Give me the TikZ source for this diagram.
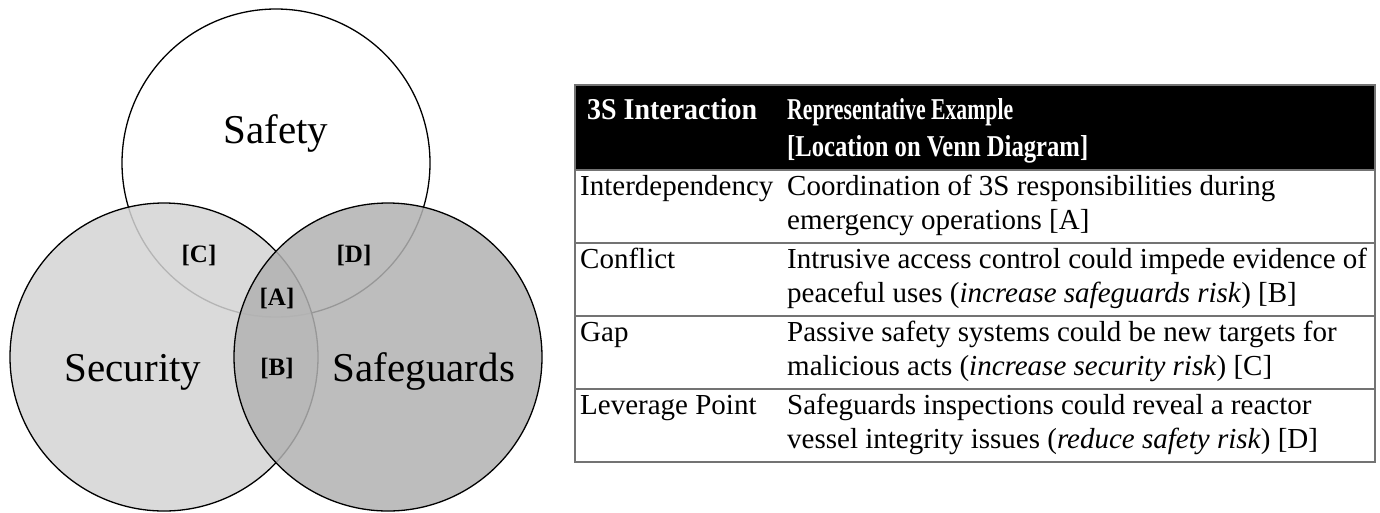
\documentclass[tikz,border=0pt]{standalone}
\usepackage{fontspec}
\usepackage{graphicx}
\setmainfont{Liberation Serif}
\definecolor{secfill}{gray}{0.83}
\definecolor{sgfill}{gray}{0.70}
\definecolor{rulegray}{gray}{0.45}
\newcommand{\hdrline}[2]{\resizebox{#1pt}{21pt}{\bfseries #2}}
\begin{document}
\begin{tikzpicture}[x=1pt,y=-1pt,
  venn/.style={circle,draw=black,line width=1.3pt,inner sep=0pt,minimum size=308pt},
  bigtxt/.style={inner sep=0pt,font=\fontsize{41}{45}\selectfont},
  lbl/.style={inner sep=0pt,font=\fontsize{25}{28}\selectfont\bfseries},
  cell/.style={anchor=base west,inner sep=0pt,font=\fontsize{29}{33}\selectfont},
  hcell/.style={anchor=base west,inner sep=0pt,text=white},
  rowline/.style={draw=rulegray,line width=1.2pt}]
\useasboundingbox (0,0) rectangle (1380,512);
% Venn diagram
\node[venn,fill=white] (safety) at (276,163) {};
\node[venn,fill=secfill,fill opacity=0.85] (security) at (164,357) {};
\node[venn,fill=sgfill,fill opacity=0.85] (safeguards) at (388,357) {};
\node[bigtxt] (tsafety) at (276,133) {Safety};
\node[bigtxt,anchor=base] (tsecurity) at (133,381) {Security};
\node[bigtxt,anchor=base] (tsafeguards) at (424,381) {Safeguards};
\node[lbl] (lc) at (199,255) {[C]};
\node[lbl] (ld) at (354,255) {[D]};
\node[lbl] (la) at (277,298) {[A]};
\node[lbl] (lb) at (277,368) {[B]};
% Table
\fill[black] (575,85) rectangle (1375,170);
\draw[rowline] (575,170) -- (1375,170);
\draw[rowline] (575,243) -- (1375,243);
\draw[rowline] (575,316) -- (1375,316);
\draw[rowline] (575,389) -- (1375,389);
\draw[rowline] (575,85) rectangle (1375,462);
\node[hcell] (h1) at (587,119) {\hdrline{170}{3S Interaction}};
\node[hcell] (h2a) at (787,119) {\hdrline{226}{Representative Example}};
\node[hcell] (h2b) at (787,156) {\hdrline{301}{[Location on Venn Diagram]}};
\node[cell] (r1a) at (580,195) {Interdependency};
\node[cell] (r1b) at (787,195) {Coordination of 3S responsibilities during};
\node[cell] (r1c) at (787,229) {emergency operations [A]};
\node[cell] (r2a) at (580,268) {Conflict};
\node[cell] (r2b) at (787,268) {Intrusive access control could impede evidence of};
\node[cell] (r2c) at (787,302) {peaceful uses (\textit{increase safeguards risk}) [B]};
\node[cell] (r3a) at (580,341) {Gap};
\node[cell] (r3b) at (787,341) {Passive safety systems could be new targets for};
\node[cell] (r3c) at (787,375) {malicious acts (\textit{increase security risk}) [C]};
\node[cell] (r4a) at (580,414) {Leverage Point};
\node[cell] (r4b) at (787,414) {Safeguards inspections could reveal a reactor};
\node[cell] (r4c) at (787,448) {vessel integrity issues (\textit{reduce safety risk}) [D]};
\end{tikzpicture}
\end{document}
